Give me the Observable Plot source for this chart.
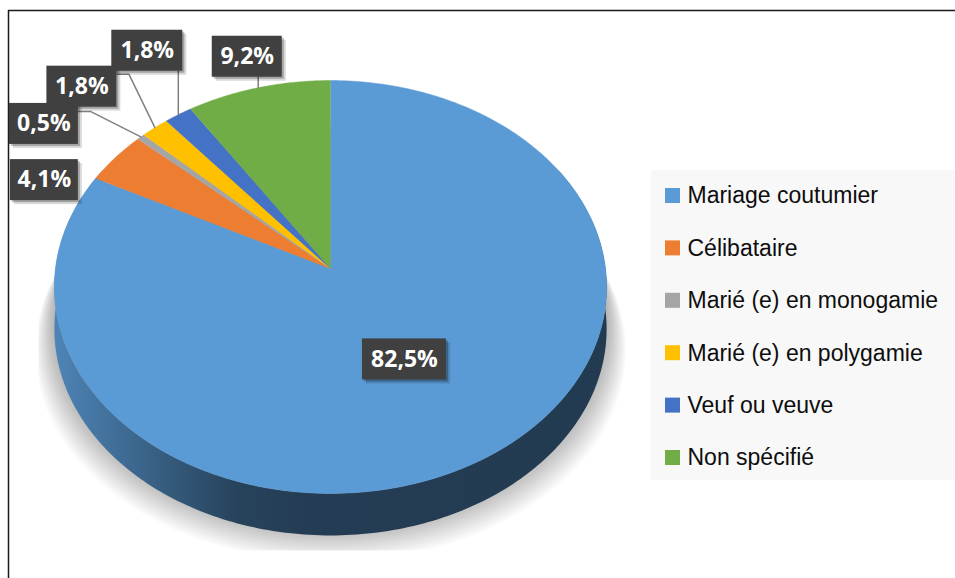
<!DOCTYPE html>
<html>
<head>
<meta charset="utf-8">
<script src="https://cdn.jsdelivr.net/npm/d3@7"></script>
<script src="https://cdn.jsdelivr.net/npm/@observablehq/plot@0.6"></script>
<style>
  html, body { margin: 0; padding: 0; background: #ffffff; }
  #chart { width: 955px; height: 578px; }
</style>
</head>
<body>
<div id="chart"></div>
<script>
// ---------- DATA ----------
const categories = [
  "Mariage coutumier",
  "Célibataire",
  "Marié (e) en monogamie",
  "Marié (e) en polygamie",
  "Veuf ou veuve",
  "Non spécifié"
];
const values = [82.5, 4.1, 0.5, 1.8, 1.8, 9.2];
const valueLabels = ["82,5%", "4,1%", "0,5%", "1,8%", "1,8%", "9,2%"];
const colors = ["#5b9bd5", "#ed7d31", "#a5a5a5", "#ffc000", "#4472c4", "#70ad47"];

// ---------- LAYOUT (positions / styles only) ----------
const W = 955, H = 578;
const CX = 330, CY = 268, RX = 275, RY = 204.8, K = 0.0896, DEPTH = 42;
const CLIP = { left: 38, bottom: 550 };
const labelLayout = [
  { dx: -81, dy: -98.5, w: 84, leader: null },
  { dx: -71, dy: 22.5,  w: 68, leader: null },
  { dx: -97, dy: -13,   w: 69, leader: "side" },
  { dx: -73, dy: -41,   w: 70, leader: "side" },
  { dx: -31, dy: -64,   w: 71, leader: "below" },
  { dx: -11, dy: -31,   w: 70, leader: "below" }
];
const BOX_H = 41;
const legendBox = { x1: 651, x2: 955, y1: 170, y2: 480 };
const legendRow0 = 195.5, legendStep = 52.4;

// perspective projection of the unit disk (angle clockwise from 12 o'clock)
function proj(theta, r = 1) {
  const u = r * Math.sin(theta), v = -r * Math.cos(theta);
  const d = 1 - K * v;
  return [CX + RX * u / d, CY + RY * v / d];
}
const deg = Math.PI / 180;

const slices = d3.pie().sort(null).value(d => d)(values)
  .map((a, i) => ({ ...a, i, mid: (a.startAngle + a.endAngle) / 2 }));

// top face slice polygons
const topPts = [];
slices.forEach(s => {
  const n = Math.max(2, Math.ceil((s.endAngle - s.startAngle) / (0.5 * deg)));
  topPts.push({ x: CX, y: CY, z: "s" + s.i, c: colors[s.i] });
  for (let j = 0; j <= n; j++) {
    const t = s.startAngle + (s.endAngle - s.startAngle) * j / n;
    const [x, y] = proj(t);
    topPts.push({ x, y, z: "s" + s.i, c: colors[s.i] });
  }
});

// side wall (front) : one polygon filled with a horizontal gradient
const sidePts = [];
const sideUp = [], sideDown = [];
for (let a = 60; a <= 300; a += 1) {
  const [x, y] = proj(a * deg);
  sideUp.push({ x, y, z: "side" });
  sideDown.push({ x, y: y + DEPTH, z: "side" });
}
sidePts.push(...sideUp, ...sideDown.reverse());

// soft layered shadow under the pie
const shadowPts = [];
const NL = 16;
for (let j = 0; j < NL; j++) {
  const f = 1 - j / (NL - 1);
  for (let a = 0; a <= 360; a += 3) {
    const [x, y] = proj(a * deg);
    let xs = CX + (x - CX) * (1 + 0.07 * f);
    let ys = CY + (y - CY) * (1 + 0.02 * f) + DEPTH * 0.8 + 30 * f;
    xs = Math.max(CLIP.left, xs);
    ys = Math.min(CLIP.bottom, ys);
    shadowPts.push({ x: xs, y: ys, z: "sh" + j });
  }
}

// labels and leaders
const labels = slices.map(s => {
  const [rx, ry] = proj(s.mid);
  const L = labelLayout[s.i];
  const cx = rx + L.dx, cy = ry + L.dy;
  return { i: s.i, rx, ry, cx, cy, x1: cx - L.w / 2, x2: cx + L.w / 2,
           y1: cy - BOX_H / 2, y2: cy + BOX_H / 2, text: valueLabels[s.i], leader: L.leader };
});
const leaderPts = [];
labels.forEach(l => {
  if (l.leader === "side") {
    const ey = l.cy - 12.5;
    leaderPts.push({ x: l.rx, y: l.ry, z: l.i }, { x: l.x2 + 12, y: ey, z: l.i }, { x: l.x2, y: ey, z: l.i });
  } else if (l.leader === "below") {
    leaderPts.push({ x: l.rx, y: l.ry, z: l.i }, { x: l.rx, y: l.y2, z: l.i });
  }
});

// legend
const legend = categories.map((name, i) => ({ name, c: colors[i], y: legendRow0 + i * legendStep }));

// gradient for the side wall, derived from the first slice colour
const base = d3.color(colors[0]);
const gradStops = [
  [0.00, base.darker(0.45)],
  [0.10, base.darker(0.9)],
  [0.22, base.darker(1.6)],
  [0.33, base.darker(2.35)],
  [0.45, base.darker(2.6)],
  [1.00, base.darker(2.7)]
];
const defsMark = () => {
  const ns = "http://www.w3.org/2000/svg";
  const defs = document.createElementNS(ns, "defs");
  const lg = document.createElementNS(ns, "linearGradient");
  lg.setAttribute("id", "sideGrad");
  lg.setAttribute("gradientUnits", "userSpaceOnUse");
  lg.setAttribute("x1", CX - RX); lg.setAttribute("x2", CX + RX);
  lg.setAttribute("y1", 0); lg.setAttribute("y2", 0);
  gradStops.forEach(([o, c]) => {
    const st = document.createElementNS(ns, "stop");
    st.setAttribute("offset", o);
    st.setAttribute("stop-color", c.formatHex());
    lg.appendChild(st);
  });
  defs.appendChild(lg);
  return defs;
};

const plot = Plot.plot({
  width: W, height: H,
  margin: 0,
  x: { domain: [0, W], range: [0, W], axis: null },
  y: { domain: [0, H], range: [0, H], axis: null },
  color: { type: "identity" },
  style: { background: "#ffffff", fontFamily: "'Liberation Sans', Arial, sans-serif", overflow: "visible" },
  marks: [
    defsMark,
    // frame
    Plot.ruleY([10], { x1: 8, x2: W, stroke: "#1a1a1a", strokeWidth: 1.5 }),
    Plot.ruleX([8], { y1: 10, y2: H, stroke: "#1a1a1a", strokeWidth: 1.5 }),
    // legend
    Plot.rect([legendBox], { x1: "x1", x2: "x2", y1: "y1", y2: "y2", fill: "#f8f8f8" }),
    Plot.rect(legend, { x1: 665, x2: 680, y1: d => d.y - 7.5, y2: d => d.y + 7.5, fill: "c" }),
    Plot.text(legend, { x: 687, y: "y", text: "name", textAnchor: "start", fontSize: 23, fill: "#0d0d0d",
      fontFamily: "'Liberation Sans', Arial, sans-serif" }),
    // shadow
    Plot.line(shadowPts, { x: "x", y: "y", z: "z", fill: "#000000", fillOpacity: 0.018, stroke: "none" }),
    // side wall
    Plot.line(sidePts, { x: "x", y: "y", z: "z", fill: "url(#sideGrad)", stroke: "none" }),
    // top face
    Plot.line(topPts, { x: "x", y: "y", z: "z", fill: "c", stroke: "c", strokeWidth: 0.5 }),
    // leader lines
    Plot.line(leaderPts, { x: "x", y: "y", z: "z", stroke: "#808080", strokeWidth: 1.5 }),
    // label boxes with soft shadow
    Plot.rect(labels, { x1: d => d.x1 + 4, x2: d => d.x2 + 4, y1: d => d.y1 + 4, y2: d => d.y2 + 4,
      fill: "#000000", fillOpacity: 0.15 }),
    Plot.rect(labels, { x1: d => d.x1 + 2, x2: d => d.x2 + 2, y1: d => d.y1 + 2, y2: d => d.y2 + 2,
      fill: "#000000", fillOpacity: 0.25 }),
    Plot.rect(labels, { x1: "x1", x2: "x2", y1: "y1", y2: "y2", fill: "#404040" }),
    Plot.text(labels, { x: "cx", y: "cy", text: "text", fill: "#ffffff", fontSize: 23, fontWeight: "bold",
      fontFamily: "'Open Sans', 'Noto Sans', sans-serif" })
  ]
});

document.getElementById("chart").appendChild(plot);
</script>
</body>
</html>
